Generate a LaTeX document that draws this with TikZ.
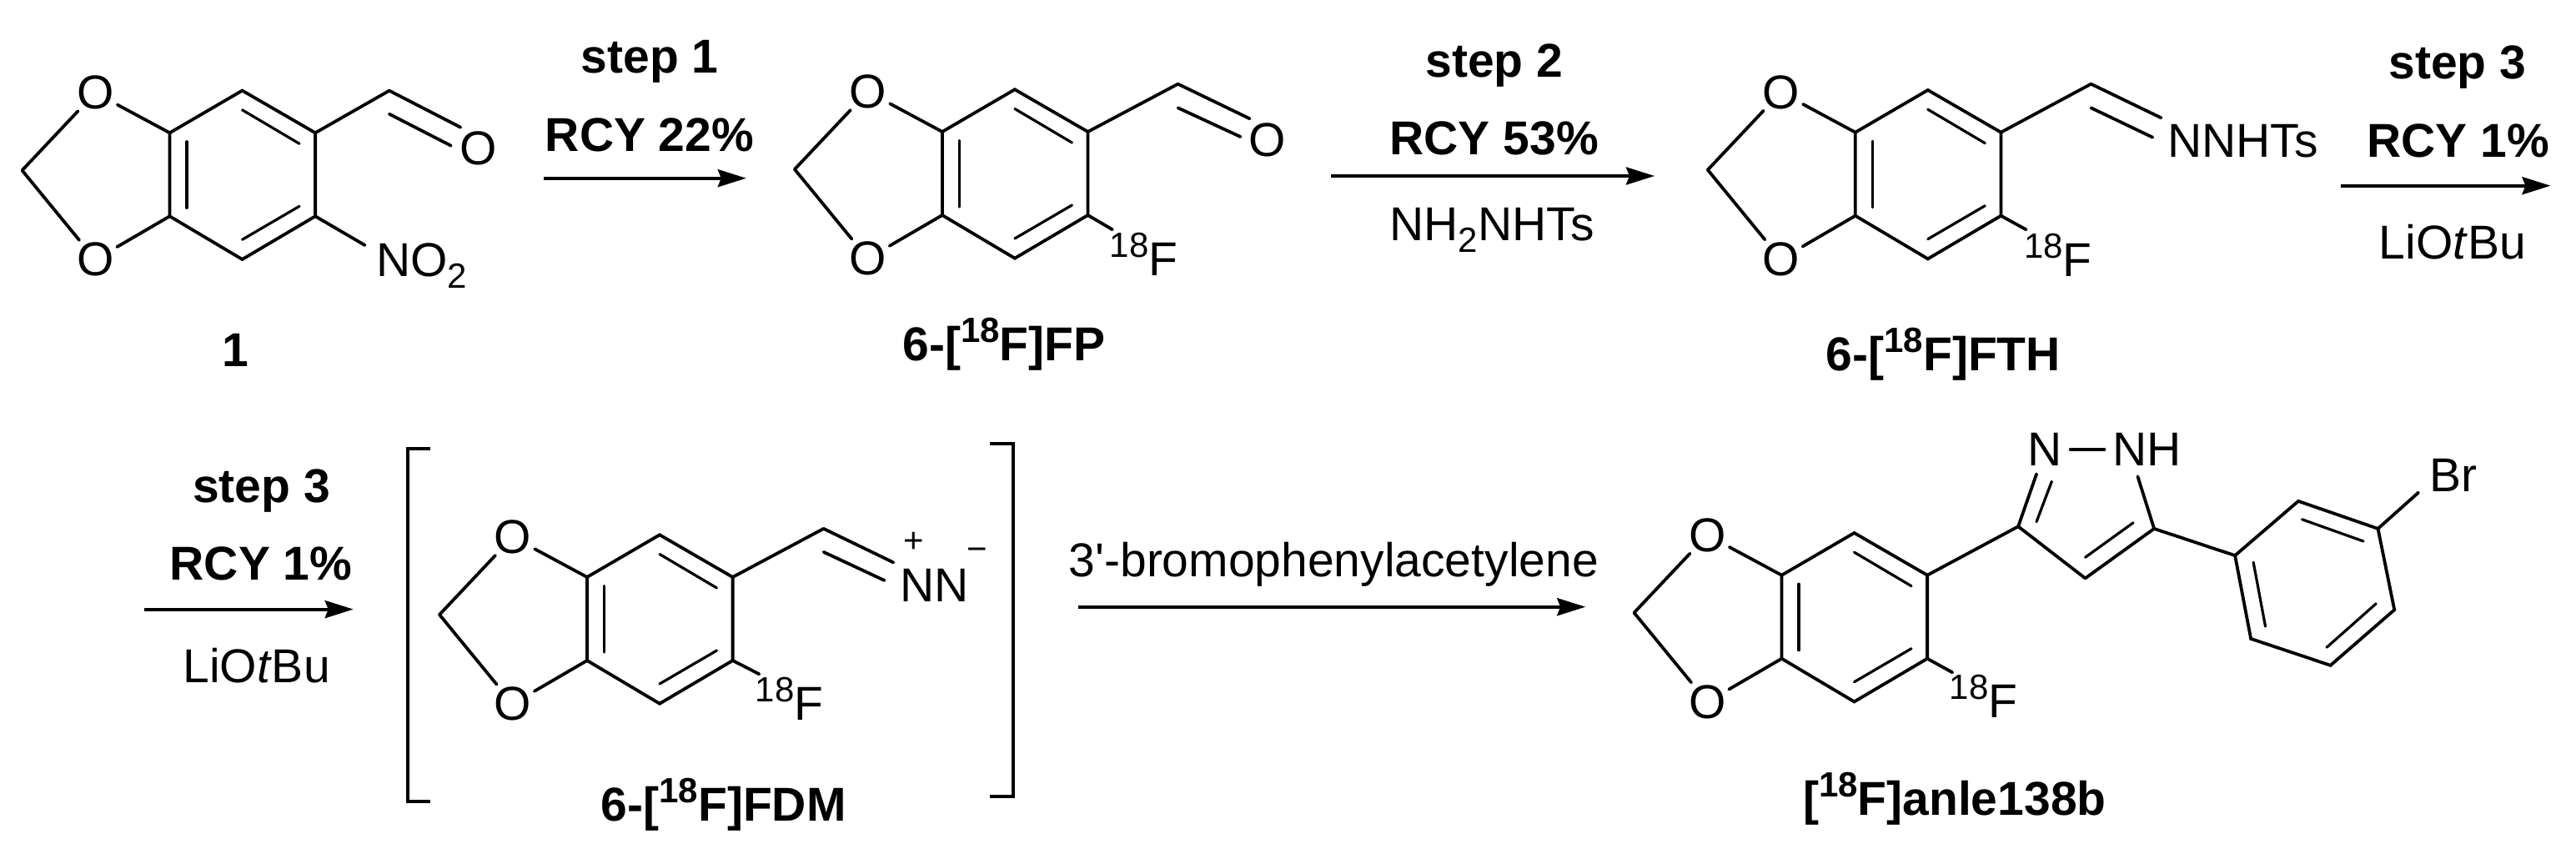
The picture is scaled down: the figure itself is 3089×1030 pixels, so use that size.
\documentclass[tikz,border=0pt]{standalone}
\usepackage{fontspec}
\setmainfont{Liberation Sans}
\usetikzlibrary{arrows.meta}
\newcommand{\iso}[1]{\raisebox{22pt}{\fontsize{42}{42}\selectfont #1}}
\newcommand{\subn}[1]{\raisebox{-14pt}{\fontsize{42}{42}\selectfont #1}}
\tikzset{
  bond/.style={line width=3.8pt,line cap=round},
  dbond/.style={line width=3.2pt,line cap=round},
  rxn/.style={line width=3.8pt,-{Stealth[length=34pt,width=21pt,inset=4pt]}},
  chemtxt/.style={inner sep=0pt,anchor=base,font=\fontsize{57}{60}\selectfont},
  boldtxt/.style={chemtxt,font=\fontsize{57}{60}\selectfont\bfseries},
  smalltxt/.style={inner sep=0pt,font=\fontsize{42}{42}\selectfont},
  atomo/.style={circle,inner sep=0pt,minimum size=60pt,font=\fontsize{57}{60}\selectfont},
  atomn/.style={inner sep=9.5pt,font=\fontsize{57}{60}\selectfont}
}
% benzodioxole core: name, then position of the upper ring atom next to the dioxole
\newcommand{\dioxring}[3]{
  \begin{scope}[shift={(#2,#3)}]
    \coordinate (#1a) at (0,0);
    \coordinate (#1b) at (87,-50.7);
    \coordinate (#1c) at (174.6,0);
    \coordinate (#1d) at (174.6,100);
    \coordinate (#1e) at (87,151.7);
    \coordinate (#1f) at (0,100);
    \node[atomo] (#1ot) at (-89.3,-48) {O};
    \node[atomo] (#1ob) at (-89.3,152) {O};
    \coordinate (#1ch) at (-177,45);
    \coordinate (#1i1) at (20.5,10.5);
    \coordinate (#1i2) at (20.5,90);
    \coordinate (#1i3) at (87,-27.5);
    \coordinate (#1i4) at (155.5,13);
    \coordinate (#1i5) at (155.5,88);
    \coordinate (#1i6) at (87,128);
    \draw[bond] (#1a) -- (#1b) -- (#1c) -- (#1d) -- (#1e) -- (#1f) -- cycle;
    \draw[bond] (#1a) -- (#1ot);
    \draw[bond] (#1ot) -- (#1ch);
    \draw[bond] (#1ch) -- (#1ob);
    \draw[bond] (#1ob) -- (#1f);
    \draw[dbond] (#1i1) -- (#1i2);
    \draw[dbond] (#1i3) -- (#1i4);
    \draw[dbond] (#1i5) -- (#1i6);
  \end{scope}
}
\begin{document}
\begin{tikzpicture}[x=1pt,y=-1pt]
  \useasboundingbox (0,0) rectangle (3089,1030);
  % compound 1
  \dioxring{p}{203.5}{159.3}
  \coordinate (pcho) at (466.8,108.7);
  \coordinate (pdo1) at (552.3,152.7);
  \coordinate (pdi1) at (466.8,136.7);
  \coordinate (pdi2) at (540.8,174.7);
  \coordinate (pnb) at (437.5,294);
  \node[atomo] (po) at (573.3,178.3) {O};
  \node[chemtxt,anchor=base west] (pno) at (451,331) {NO\subn{2}};
  \draw[bond] (pc) -- (pcho);
  \draw[bond] (pcho) -- (pdo1);
  \draw[bond] (pdi1) -- (pdi2);
  \draw[bond] (pd) -- (pnb);
  \node[boldtxt] (plabel) at (282.5,439) {1};
  % arrow 1
  \coordinate (a1s) at (651.8,213.7);
  \coordinate (a1e) at (894.8,213.7);
  \draw[rxn] (a1s) -- (a1e);
  \node[boldtxt] (a1t) at (779,88) {step 1};
  \node[boldtxt] (a1y) at (779,181) {RCY 22\%};
  % 6-[18F]FP
  \dioxring{q}{1129.9}{158}
  \coordinate (qcho) at (1412.5,100.7);
  \coordinate (qdo1) at (1498.6,142.3);
  \coordinate (qdi1) at (1412.5,129.3);
  \coordinate (qdi2) at (1487.5,164);
  \coordinate (qfb) at (1334,275.3);
  \node[atomo] (qo) at (1520,167.7) {O};
  \node[chemtxt,anchor=base west] (qf) at (1330.6,330) {\iso{18}F};
  \draw[bond] (qc) -- (qcho);
  \draw[bond] (qcho) -- (qdo1);
  \draw[bond] (qdi1) -- (qdi2);
  \draw[bond] (qd) -- (qfb);
  \node[boldtxt] (qlabel) at (1204,432) {6-[\iso{18}F]FP};
  % arrow 2
  \coordinate (a2s) at (1595.8,211);
  \coordinate (a2e) at (1984,211);
  \draw[rxn] (a2s) -- (a2e);
  \node[boldtxt] (a2t) at (1791.7,92.7) {step 2};
  \node[boldtxt] (a2y) at (1791.7,185.3) {RCY 53\%};
  \node[chemtxt] (a2r) at (1789,288.3) {NH\subn{2}NHTs};
  % 6-[18F]FTH
  \dioxring{r}{2224.8}{158.7}
  \coordinate (rch) at (2507.4,100.7);
  \coordinate (rdo1) at (2591.5,141.3);
  \coordinate (rdi1) at (2507.4,129.3);
  \coordinate (rdi2) at (2581.3,164.7);
  \coordinate (rfb) at (2429.6,275.3);
  \node[chemtxt,anchor=base west] (rn) at (2599,188.3) {NNHTs};
  \node[chemtxt,anchor=base west] (rf) at (2427,331) {\iso{18}F};
  \draw[bond] (rc) -- (rch);
  \draw[bond] (rch) -- (rdo1);
  \draw[bond] (rdi1) -- (rdi2);
  \draw[bond] (rd) -- (rfb);
  \node[boldtxt] (rlabel) at (2330.3,444.3) {6-[\iso{18}F]FTH};
  % arrow 3
  \coordinate (a3s) at (2807,222.7);
  \coordinate (a3e) at (3058.4,222.7);
  \draw[rxn] (a3s) -- (a3e);
  \node[boldtxt] (a3t) at (2946.8,94.3) {step 3};
  \node[boldtxt] (a3y) at (2947.7,188.3) {RCY 1\%};
  \node[chemtxt] (a3r) at (2941,310.7) {LiO\textit{t}Bu};
  % arrow 4
  \coordinate (a4s) at (173.3,730.6);
  \coordinate (a4e) at (423.7,730.6);
  \draw[rxn] (a4s) -- (a4e);
  \node[boldtxt] (a4t) at (313.4,602) {step 3};
  \node[boldtxt] (a4y) at (313,695.4) {RCY 1\%};
  \node[chemtxt] (a4r) at (307.6,818.5) {LiO\textit{t}Bu};
  % 6-[18F]FDM in brackets
  \draw[bond,line cap=butt] (515.8,538.2) -- (489,538.2) -- (489,961) -- (515.8,961);
  \draw[bond,line cap=butt] (1187.4,532) -- (1214.8,532) -- (1214.8,954.7) -- (1187.4,954.7);
  \dioxring{s}{704}{692}
  \coordinate (sch) at (987.6,633.9);
  \coordinate (sdo1) at (1071.3,674.4);
  \coordinate (sdi1) at (987.6,661.9);
  \coordinate (sdi2) at (1060.6,696);
  \coordinate (sfb) at (910.4,808.3);
  \node[chemtxt,anchor=base west] (sn) at (1078.8,721.4) {NN};
  \node[smalltxt] (splus) at (1096,650.4) {+};
  \node[smalltxt] (sminus) at (1171.6,664.6) {−};
  \node[chemtxt,anchor=base west] (sf) at (905.5,863.4) {\iso{18}F};
  \draw[bond] (sc) -- (sch);
  \draw[bond] (sch) -- (sdo1);
  \draw[bond] (sdi1) -- (sdi2);
  \draw[bond] (sd) -- (sfb);
  \node[boldtxt] (slabel) at (867.7,984) {6-[\iso{18}F]FDM};
  % arrow 5
  \coordinate (a5s) at (1292.8,727.7);
  \coordinate (a5e) at (1901.2,727.7);
  \draw[rxn] (a5s) -- (a5e);
  \node[chemtxt] (a5t) at (1599.3,691) {3\textquotesingle-bromophenylacetylene};
  % [18F]anle138b
  \dioxring{t}{2136.5}{689.7}
  \coordinate (tc3) at (2420.1,631.3);
  \coordinate (tc4) at (2500.5,693.4);
  \coordinate (tc5) at (2583.1,633.9);
  \node[atomn,anchor=center] (tn) at (2452.3,539) {N};
  \node[atomn,anchor=center,inner sep=10pt] (tnh) at (2574.8,539) {NH};
  \coordinate (tnhb) at (2563.4,571.3);
  \coordinate (ti1) at (2460.3,577.3);
  \coordinate (ti2) at (2442,625.7);
  \coordinate (ti3) at (2500.5,668.3);
  \coordinate (ti4) at (2558,626.8);
  \draw[bond] (tc) -- (tc3);
  \draw[bond] (tc3) -- (tn);
  \draw[bond] (tn) -- (tnh);
  \draw[bond] (tnhb) -- (tc5);
  \draw[bond] (tc5) -- (tc4);
  \draw[bond] (tc4) -- (tc3);
  \draw[dbond] (ti1) -- (ti2);
  \draw[dbond] (ti3) -- (ti4);
  \coordinate (tp1) at (2680.1,666.1);
  \coordinate (tp2) at (2756,600.9);
  \coordinate (tp3) at (2851.5,633.9);
  \coordinate (tp4) at (2871.2,731.2);
  \coordinate (tp5) at (2794.6,797.8);
  \coordinate (tp6) at (2699.1,765.9);
  \coordinate (ti5) at (2760.5,622.8);
  \coordinate (ti6) at (2834,649);
  \coordinate (ti7) at (2702.1,674.2);
  \coordinate (ti8) at (2716.5,751.1);
  \coordinate (ti9) at (2849.2,723.8);
  \coordinate (ti10) at (2790,776.3);
  \coordinate (tbrb) at (2900,590.6);
  \coordinate (tfb) at (2341.2,806.3);
  \draw[bond] (tc5) -- (tp1);
  \draw[bond] (tp1) -- (tp2) -- (tp3) -- (tp4) -- (tp5) -- (tp6) -- cycle;
  \draw[bond] (tp3) -- (tbrb);
  \draw[bond] (td) -- (tfb);
  \draw[dbond] (ti5) -- (ti6);
  \draw[dbond] (ti7) -- (ti8);
  \draw[dbond] (ti9) -- (ti10);
  \node[chemtxt,anchor=base west] (tbr) at (2912.9,589) {Br};
  \node[chemtxt,anchor=base west] (tf) at (2337.5,860.7) {\iso{18}F};
  \node[boldtxt] (tlabel) at (2343.8,977.2) {[\iso{18}F]anle138b};
\end{tikzpicture}
\end{document}
